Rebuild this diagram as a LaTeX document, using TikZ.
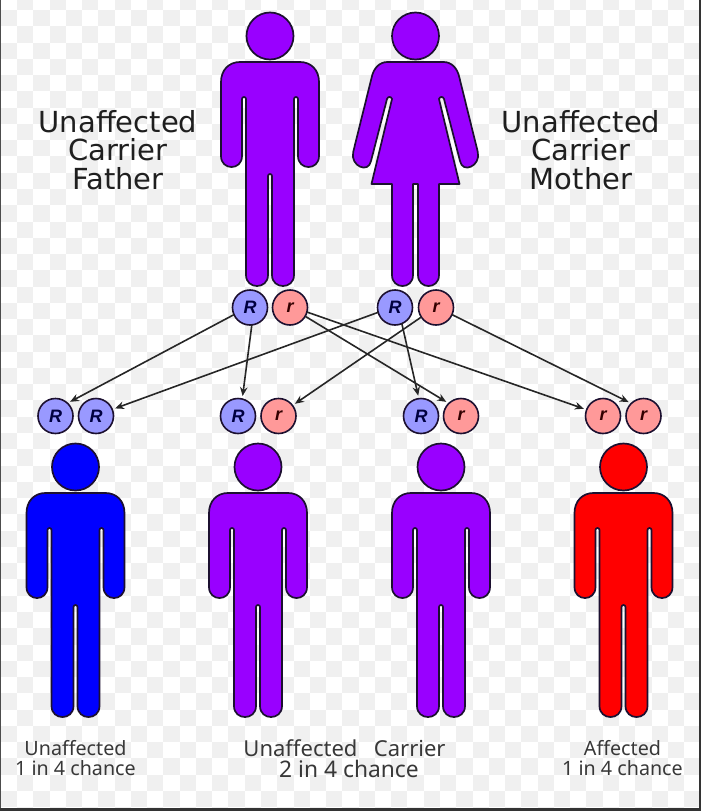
\documentclass[tikz,border=0pt]{standalone}
\usepackage{fontspec}
\setmainfont{DejaVu Sans}
\newfontfamily\alleleface{Liberation Sans}
\newfontfamily\capface{Noto Sans}
\usetikzlibrary{arrows.meta}
\definecolor{violetfig}{HTML}{9900FF}
\definecolor{bluefig}{HTML}{0000FF}
\definecolor{redfig}{HTML}{FF0000}
\definecolor{outl}{HTML}{1C1030}
\definecolor{chk}{HTML}{F0F0F0}
\definecolor{bigR}{HTML}{9999FF}
\definecolor{smallr}{HTML}{FF9999}
\tikzset{
  figure/.style={draw=outl,line width=1.7pt,line join=round},
  allele/.style={circle,draw=outl,line width=1.6pt,minimum size=35pt,inner sep=0pt,outer sep=0pt,
    font=\alleleface\fontsize{18}{18}\selectfont\bfseries\itshape},
  domR/.style={allele,fill=bigR,text=black!75!blue},
  recr/.style={allele,fill=smallr,text=black!80!red},
  gene/.style={-{Stealth[length=9pt,width=7.5pt]},draw=black!85,line width=1.6pt,shorten >=3pt},
  biglabel/.style={align=center,text=black!88,font=\fontsize{29}{28.6}\selectfont},
  smalllabel/.style={align=center,text=black!78,font=\capface\fontsize{19.7}{20.5}\selectfont},
  midlabel/.style={align=center,text=black!78,font=\capface\fontsize{22}{22}\selectfont},
}
\newcommand{\manfig}[3]{%
  \begin{scope}[shift={(#1,#2)}]
    \fill[figure,fill=#3] (0,36) circle[radius=23.5pt];
    \fill[figure,fill=#3]
      (-30,62) .. controls (-41,62) and (-49,70) .. (-49,82) -- (-49,156)
      .. controls (-49,170.7) and (-28,170.7) .. (-28,156) -- (-28,99)
      .. controls (-28,96.3) and (-24,96.3) .. (-24,99) -- (-24,275)
      .. controls (-24,289.7) and (-2,289.7) .. (-2,275) -- (-2,176)
      .. controls (-2,173.3) and (2,173.3) .. (2,176) -- (2,275)
      .. controls (2,289.7) and (24,289.7) .. (24,275) -- (24,99)
      .. controls (24,96.3) and (28,96.3) .. (28,99) -- (28,156)
      .. controls (28,170.7) and (49,170.7) .. (49,156) -- (49,82)
      .. controls (49,70) and (41,62) .. (30,62) -- cycle;
  \end{scope}}
\newcommand{\womanfig}[3]{%
  \begin{scope}[shift={(#1,#2)}]
    \fill[figure,fill=#3] (0,36) circle[radius=23.5pt];
    \fill[figure,fill=#3]
      (-28,62) .. controls (-36,62) and (-42,68) .. (-44,78) -- (-62.3,152)
      .. controls (-65.5,166) and (-47,174) .. (-44.5,161) -- (-28.5,99)
      .. controls (-28,96.3) and (-24,96.3) .. (-23.5,99) -- (-44,184) -- (-23.5,184) -- (-23.5,275)
      .. controls (-23.5,289.7) and (-2.5,289.7) .. (-2.5,275) -- (-2.5,184) -- (2.5,184) -- (2.5,275)
      .. controls (2.5,289.7) and (23.5,289.7) .. (23.5,275) -- (23.5,184) -- (44,184) -- (23.5,99)
      .. controls (24,96.3) and (28,96.3) .. (28.5,99) -- (44.5,161)
      .. controls (47,174) and (65.5,166) .. (62.3,152) -- (44,78)
      .. controls (42,68) and (36,62) .. (28,62) -- cycle;
  \end{scope}}
\begin{document}
\begin{tikzpicture}[x=1pt,y=-1pt]
\useasboundingbox (0,0) rectangle (701,811);
\begin{scope}
  \clip (0,0) rectangle (701,811);
  \fill[white] (0,0) rectangle (701,811);
  \foreach \i in {-1,...,43}{
    \foreach \j in {-1,...,49}{
      \pgfmathparse{int(mod(\i+\j+100,2))}
      \ifnum\pgfmathresult=0
        \fill[chk] ({0.7+16.27*\i},{10+16.27*\j}) rectangle ++(16.27,16.27);
      \fi
    }
  }
  % frame edges
  \fill[black!70] (0,0) rectangle (1.3,811);
  \fill[black!80] (698.5,0) rectangle (701,811);
  \fill[black!80] (0,808.3) rectangle (701,811);
\end{scope}

% parents
\manfig{270}{0}{violetfig}
\womanfig{415.5}{0}{violetfig}
% children
\manfig{75.5}{431}{bluefig}
\manfig{258}{431}{violetfig}
\manfig{441}{431}{violetfig}
\manfig{623.5}{431}{redfig}

% alleles
\node[domR] (fR) at (250,307.5) {R};
\node[recr] (fr) at (290,307.5) {r};
\node[domR] (mR) at (395,307.5) {R};
\node[recr] (mr) at (436,307.5) {r};
\node[domR] (c1a) at (55.5,416) {R};
\node[domR] (c1b) at (96,416) {R};
\node[domR] (c2a) at (238,416) {R};
\node[recr] (c2b) at (278.5,416) {r};
\node[domR] (c3a) at (421,416) {R};
\node[recr] (c3b) at (461,416) {r};
\node[recr] (c4a) at (603,416) {r};
\node[recr] (c4b) at (643.5,416) {r};

% inheritance
\draw[gene] (fR.204) -- (c1a.47.5);
\draw[gene] (fR.276) -- (c2a.76);
\draw[gene] (fr.-30) -- (c3b.134);
\draw[gene] (fr.-15) -- (c4a.159);
\draw[gene] (mR.196) -- (c1b.22.5);
\draw[gene] (mR.-67) -- (c3a.97.5);
\draw[gene] (mr.213) -- (c2b.37);
\draw[gene] (mr.-24) -- (c4b.134);

% labels
\node[biglabel] (lf) at (118,150) {Unaffected\\Carrier\\Father};
\node[biglabel] (lm) at (581,150) {Unaffected\\Carrier\\Mother};
\node[smalllabel] (l1) at (75.5,758) {Unaffected\\1 in 4 chance};
\node[midlabel] (l2a) at (344.5,748) {Unaffected\hspace{0.75em}Carrier};
\node[midlabel,font=\capface\fontsize{22.8}{22.8}\selectfont] (l2b) at (349,768.5) {2 in 4 chance};
\node[smalllabel] (l4) at (622.5,758) {Affected\\1 in 4 chance};
\end{tikzpicture}
\end{document}
